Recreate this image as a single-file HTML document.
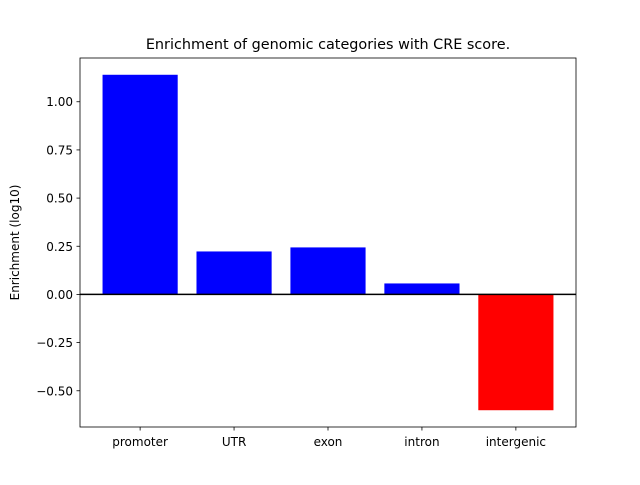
<!DOCTYPE html>
<html><head><meta charset="utf-8"><style>
body{margin:0;background:#fff;}
svg text{font-family:"DejaVu Sans","Liberation Sans",sans-serif;fill:#000;}
</style></head><body>
<svg id="chart" width="640" height="480" xmlns="http://www.w3.org/2000/svg">
<rect width="640" height="480" fill="#fff"/>
<text x="328" y="49" font-size="14.4" text-anchor="middle">Enrichment of genomic categories with CRE score.</text>
<text transform="translate(19,242.5) rotate(-90)" font-size="12" text-anchor="middle">Enrichment (log10)</text>
<g id="plot"></g>
</svg>
<script>
const categories = ["promoter","UTR","exon","intron","intergenic"];
const values = [1.14, 0.223, 0.244, 0.057, -0.601];
const yTicks = [-0.5, -0.25, 0, 0.25, 0.5, 0.75, 1.0];
const yTickLabels = ["\u22120.50","\u22120.25","0.00","0.25","0.50","0.75","1.00"];

const L=80,R=576,T=58,B=427;
const vmin=Math.min(0,...values), vmax=Math.max(0,...values), pad=(vmax-vmin)*0.05;
const y0=vmin-pad, y1=vmax+pad;
const xmin=-0.4-0.24, xmax=categories.length-1+0.4+0.24;
const sx=v=>L+(v-xmin)/(xmax-xmin)*(R-L);
const sy=v=>B-(v-y0)/(y1-y0)*(B-T);
const NS="http://www.w3.org/2000/svg";
const g=document.getElementById('plot');
function mk(tag,attrs){const e=document.createElementNS(NS,tag);for(const k in attrs)e.setAttribute(k,attrs[k]);g.appendChild(e);return e;}
values.forEach((v,i)=>{
  const r=mk('rect',{x:sx(i-0.4),width:sx(i+0.4)-sx(i-0.4),y:Math.min(sy(v),sy(0)),height:Math.abs(sy(v)-sy(0)),fill:v>=0?'#0000ff':'#ff0000'});
  
  
  const t=mk('line',{x1:sx(i),x2:sx(i),y1:B,y2:B+3.5,stroke:'#000','stroke-width':0.8});
  
  
  const lb=mk('text',{x:sx(i),y:B+19,'font-size':12,'text-anchor':'middle'});
  lb.textContent=categories[i];
  
  
});
yTicks.forEach((v,i)=>{
  const t=mk('line',{x1:L-3.5,x2:L,y1:sy(v),y2:sy(v),stroke:'#000','stroke-width':0.8});
  
  
  const lb=mk('text',{x:L-7,y:sy(v)+4.5,'font-size':12,'text-anchor':'end'});
  lb.textContent=yTickLabels[i];
  
  
});
const z=mk('line',{x1:L,x2:R,y1:sy(0),y2:sy(0),stroke:'#000','stroke-width':1.5});


const fr=mk('rect',{x:L,y:T,width:R-L,height:B-T,fill:'none',stroke:'#000','stroke-width':0.8});


</script>
</body></html>
